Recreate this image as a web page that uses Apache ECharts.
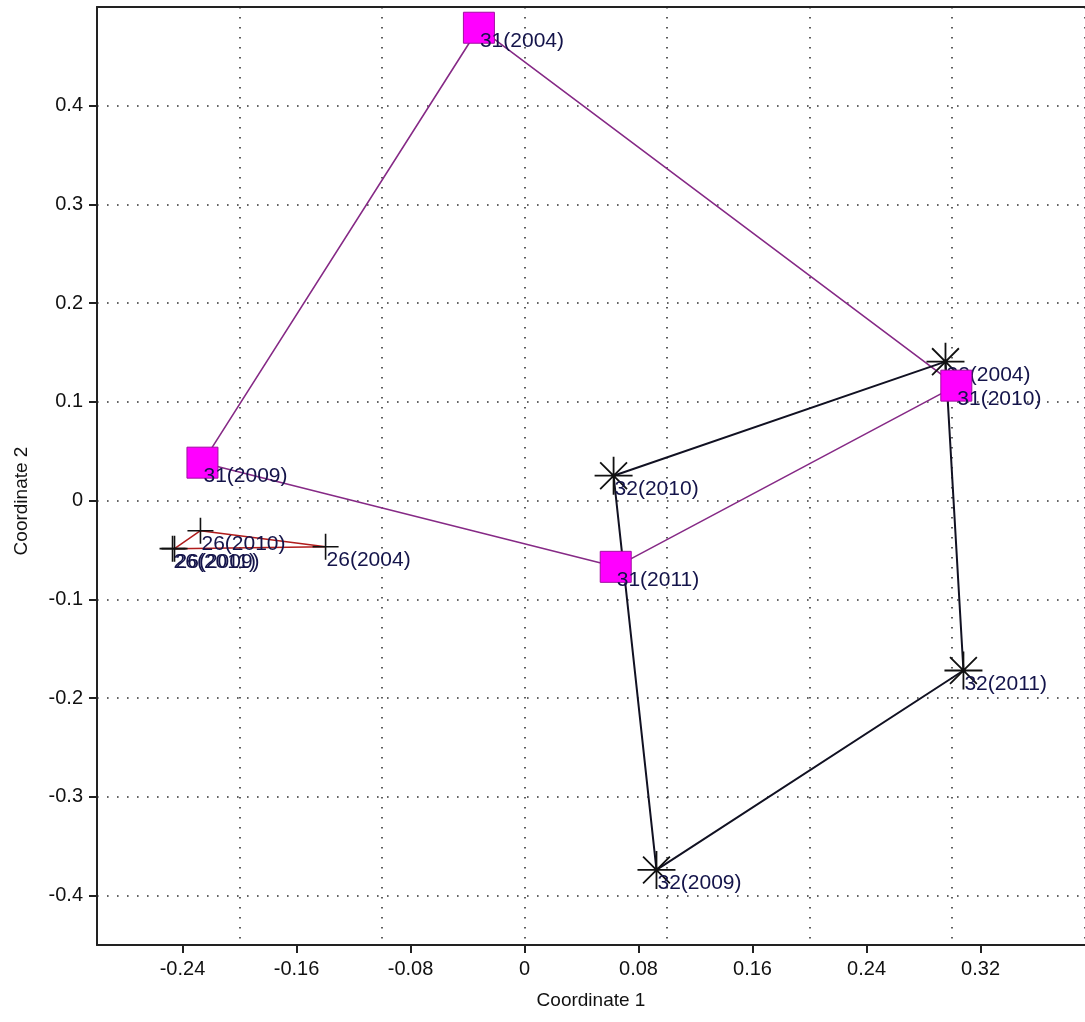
<!DOCTYPE html>
<html>
<head>
<meta charset="utf-8">
<script src="https://cdn.jsdelivr.net/npm/echarts@6/dist/echarts.min.js"></script>
<style>
  html, body { margin: 0; padding: 0; background: #ffffff; }
  #chart { width: 1085px; height: 1022px; }
</style>
</head>
<body>
<div id="chart"></div>
<script>
// ---- data ----
var years = ['2004', '2009', '2011', '2010'];
var polygonOrder = [0, 1, 2, 3, 0];

var g31x = [-0.032, -0.226, 0.064, 0.303];
var g31y = [0.479, 0.0385, -0.067, 0.1165];

var g32x = [0.2954, 0.0926, 0.308, 0.0625];
var g32y = [0.1408, -0.374, -0.172, 0.0253];
var g32Order = [0, 3, 1, 2, 0]; // 2004 -> 2010 -> 2009 -> 2011 -> 2004

var g26x = [-0.1396, -0.2456, -0.247, -0.2274];
var g26y = [-0.0466, -0.0486, -0.0486, -0.0304];

var xTickLabels = [-0.24, -0.16, -0.08, 0, 0.08, 0.16, 0.24, 0.32];
var yTickLabels = [-0.4, -0.3, -0.2, -0.1, 0, 0.1, 0.2, 0.3, 0.4];

var xName = 'Coordinate 1';
var yName = 'Coordinate 2';

// ---- helpers ----
function pts(group, xs, ys) {
  return years.map(function (yr, i) {
    return { name: group + '(' + yr + ')', value: [xs[i], ys[i]] };
  });
}
function path(xs, ys, order) {
  return order.map(function (i) { return [xs[i], ys[i]]; });
}

var FONT = 'Liberation Sans, Arial, sans-serif';
var labelStyle = {
  show: true,
  formatter: '{b}',
  position: ['50%', '50%'],
  align: 'left',
  verticalAlign: 'top',
  offset: [1, 3],
  color: '#14144a',
  opacity: 1,
  fontSize: 21,
  fontFamily: FONT
};

var starPath = 'path://M16,0L16,32M0,16L32,16M4.7,4.7L27.3,27.3M4.7,27.3L27.3,4.7';
var plusPath = 'path://M13,0L13,26M0,13L26,13';

var chart = echarts.init(document.getElementById('chart'), null, { renderer: 'canvas' });

var X_MIN = -0.3, X_MAX = 0.3933;

var option = {
  backgroundColor: '#ffffff',
  animation: false,
  grid: { left: 97, top: 7, right: 0, bottom: 77, containLabel: false },
  xAxis: [
    {
      type: 'value', min: X_MIN, max: X_MAX, position: 'bottom',
      name: xName, nameLocation: 'middle', nameGap: 46,
      nameTextStyle: { color: '#111', fontSize: 19, fontFamily: FONT },
      axisLine: { show: true, onZero: false, lineStyle: { color: '#222', width: 2 } },
      axisTick: { show: true, inside: false, length: 8, customValues: xTickLabels, lineStyle: { color: '#222', width: 2 } },
      axisLabel: { show: true, customValues: xTickLabels, margin: 14, color: '#111', fontSize: 20, fontFamily: FONT,
        formatter: function (v) { return String(Math.round(v * 100) / 100); } },
      splitLine: { show: false }
    },
    {
      type: 'value', min: X_MIN, max: X_MAX, interval: 0.1, position: 'top',
      axisLine: { show: true, onZero: false, lineStyle: { color: '#222', width: 2 } },
      axisTick: { show: false },
      axisLabel: { show: false },
      splitLine: { show: true, lineStyle: { color: '#333', width: 1.6, type: [1.6, 8.4] } }
    }
  ],
  yAxis: {
    type: 'value', min: -0.45, max: 0.5, splitNumber: 10,
    name: yName, nameLocation: 'middle', nameGap: 66,
    nameTextStyle: { color: '#111', fontSize: 19, fontFamily: FONT, padding: [0, 50, 0, 0] },
    axisLine: { show: true, onZero: false, lineStyle: { color: '#222', width: 2 } },
    axisTick: { show: true, inside: false, length: 8, customValues: yTickLabels, lineStyle: { color: '#222', width: 2 } },
    axisLabel: { show: true, customValues: yTickLabels, margin: 14, color: '#111', fontSize: 20, fontFamily: FONT,
      formatter: function (v) { return String(Math.round(v * 100) / 100); } },
    splitLine: { show: true, lineStyle: { color: '#333', width: 1.6, type: [1.6, 8.4] } }
  },
  series: [
    {
      type: 'line', xAxisIndex: 0, data: path(g26x, g26y, polygonOrder),
      showSymbol: false, lineStyle: { color: '#b01c1c', width: 1.5 }, z: 2, silent: true
    },
    {
      type: 'line', xAxisIndex: 0, data: path(g31x, g31y, polygonOrder),
      showSymbol: false, lineStyle: { color: '#862a86', width: 1.6 }, z: 2, silent: true
    },
    {
      type: 'line', xAxisIndex: 0, data: path(g32x, g32y, g32Order),
      showSymbol: false, lineStyle: { color: '#111122', width: 2 }, z: 2, silent: true
    },
    {
      type: 'scatter', xAxisIndex: 0, data: pts('26', g26x, g26y),
      symbol: plusPath, symbolSize: 26,
      itemStyle: { color: 'transparent', borderColor: '#111', borderWidth: 1.6, opacity: 1 },
      label: labelStyle, z: 3
    },
    {
      type: 'scatter', xAxisIndex: 0, data: pts('32', g32x, g32y),
      symbol: starPath, symbolSize: 38,
      itemStyle: { color: 'transparent', borderColor: '#111', borderWidth: 1.8, opacity: 1 },
      label: labelStyle, z: 3
    },
    {
      type: 'scatter', xAxisIndex: 0, data: pts('31', g31x, g31y),
      symbol: 'rect', symbolSize: 31,
      itemStyle: { color: '#ff00ff', borderColor: '#a010a0', borderWidth: 1, opacity: 1 },
      label: labelStyle, z: 4
    }
  ]
};
chart.setOption(option);
</script>
</body>
</html>
